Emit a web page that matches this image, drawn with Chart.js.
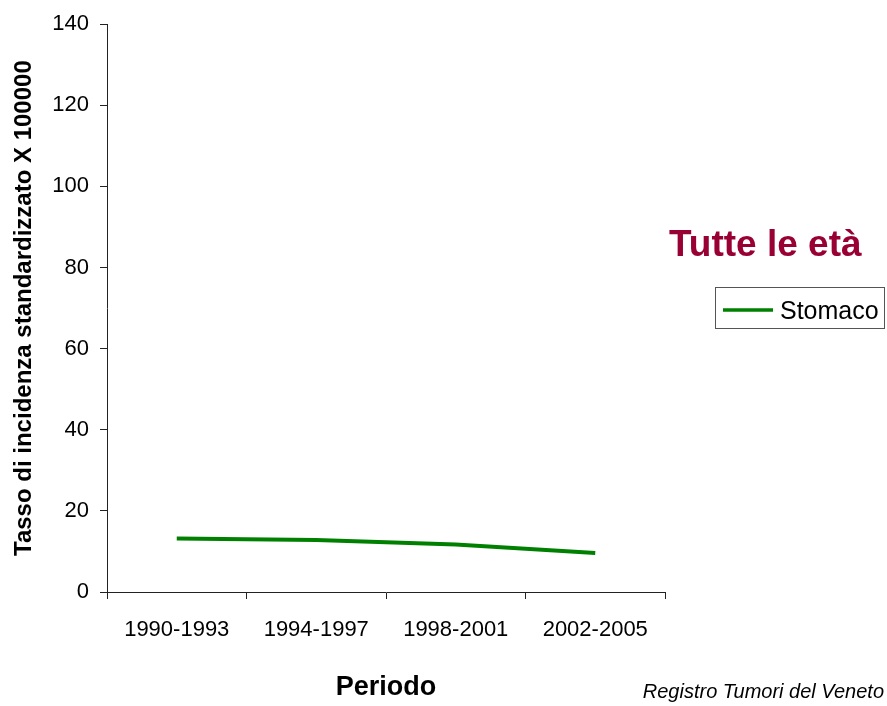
<!DOCTYPE html>
<html>
<head>
<meta charset="utf-8">
<script src="https://cdn.jsdelivr.net/npm/chart.js@4/dist/chart.umd.min.js"></script>
<style>
  body { margin: 0; background: #fff; }
  #wrap { width: 887px; height: 706px; }
</style>
</head>
<body>
<div id="wrap"><canvas id="chart" width="887" height="706"></canvas></div>
<script>
// data
var periods = ["1990-1993", "1994-1997", "1998-2001", "2002-2005"];
var stomaco = [13.2, 12.8, 11.7, 9.6];
var seriesName = "Stomaco";
var yTicks = [0, 20, 40, 60, 80, 100, 120, 140];
var titleText = "Tutte le età";
var yTitle = "Tasso di incidenza standardizzato X 100000";
var xTitle = "Periodo";
var sourceText = "Registro Tumori del Veneto";

var FONT = "'Liberation Sans', Arial, sans-serif";

// title, legend box and source line drawn on the right side
var extras = {
  id: "extras",
  afterDraw: function (chart) {
    var ctx = chart.ctx;
    var ds = chart.data.datasets[0];
    ctx.save();
    ctx.fillStyle = "#990033";
    ctx.font = "bold 37px " + FONT;
    ctx.textAlign = "left";
    ctx.textBaseline = "alphabetic";
    ctx.fillText(titleText, 669, 256);

    // legend
    ctx.strokeStyle = "#555";
    ctx.lineWidth = 1;
    ctx.strokeRect(715.5, 287.5, 169, 41);
    ctx.strokeStyle = ds.borderColor;
    ctx.lineWidth = 3.5;
    ctx.beginPath();
    ctx.moveTo(723, 310);
    ctx.lineTo(773, 310);
    ctx.stroke();
    ctx.fillStyle = "#000";
    ctx.font = "25px " + FONT;
    ctx.fillText(ds.label, 780, 319);

    // source
    ctx.font = "italic 20px " + FONT;
    ctx.textAlign = "right";
    ctx.fillText(sourceText, 884, 698);
    ctx.restore();
  }
};

var ctx = document.getElementById("chart").getContext("2d");
var chart = new Chart(ctx, {
  type: "line",
  data: {
    labels: periods,
    datasets: [{
      label: seriesName,
      data: stomaco,
      borderColor: "#008000",
      backgroundColor: "#008000",
      borderWidth: 4,
      pointRadius: 0,
      tension: 0,
      fill: false
    }]
  },
  options: {
    responsive: false,
    animation: false,
    devicePixelRatio: 1,
    layout: { padding: { top: 22, right: 222, left: 0, bottom: 0 } },
    plugins: {
      legend: { display: false },
      tooltip: { enabled: false }
    },
    scales: {
      x: {
        offset: true,
        afterFit: function (scale) { scale.height = 114; },
        grid: { offset: true, drawOnChartArea: false, drawTicks: true, tickLength: 7, color: "#222" },
        border: { display: true, color: "#222", width: 1 },
        ticks: { color: "#000", padding: 18, maxRotation: 0, font: { family: FONT, size: 22 } },
        title: {
          display: true, text: xTitle, color: "#000",
          font: { family: FONT, size: 27, weight: "bold" },
          padding: { top: 0, bottom: 2 }
        }
      },
      y: {
        min: 0,
        max: 140,
        afterFit: function (scale) { scale.width = 107; },
        afterBuildTicks: function (scale) {
          scale.ticks = yTicks.map(function (v) { return { value: v }; });
        },
        grid: { drawOnChartArea: false, drawTicks: true, tickLength: 7, color: "#222" },
        border: { display: true, color: "#222", width: 1 },
        ticks: { color: "#000", padding: 11, font: { family: FONT, size: 22 } },
        title: {
          display: true, text: yTitle, color: "#000",
          font: { family: FONT, size: 24, weight: "bold" },
          padding: { top: 10, bottom: 0 }
        }
      }
    }
  },
  plugins: [extras]
});
</script>
</body>
</html>
